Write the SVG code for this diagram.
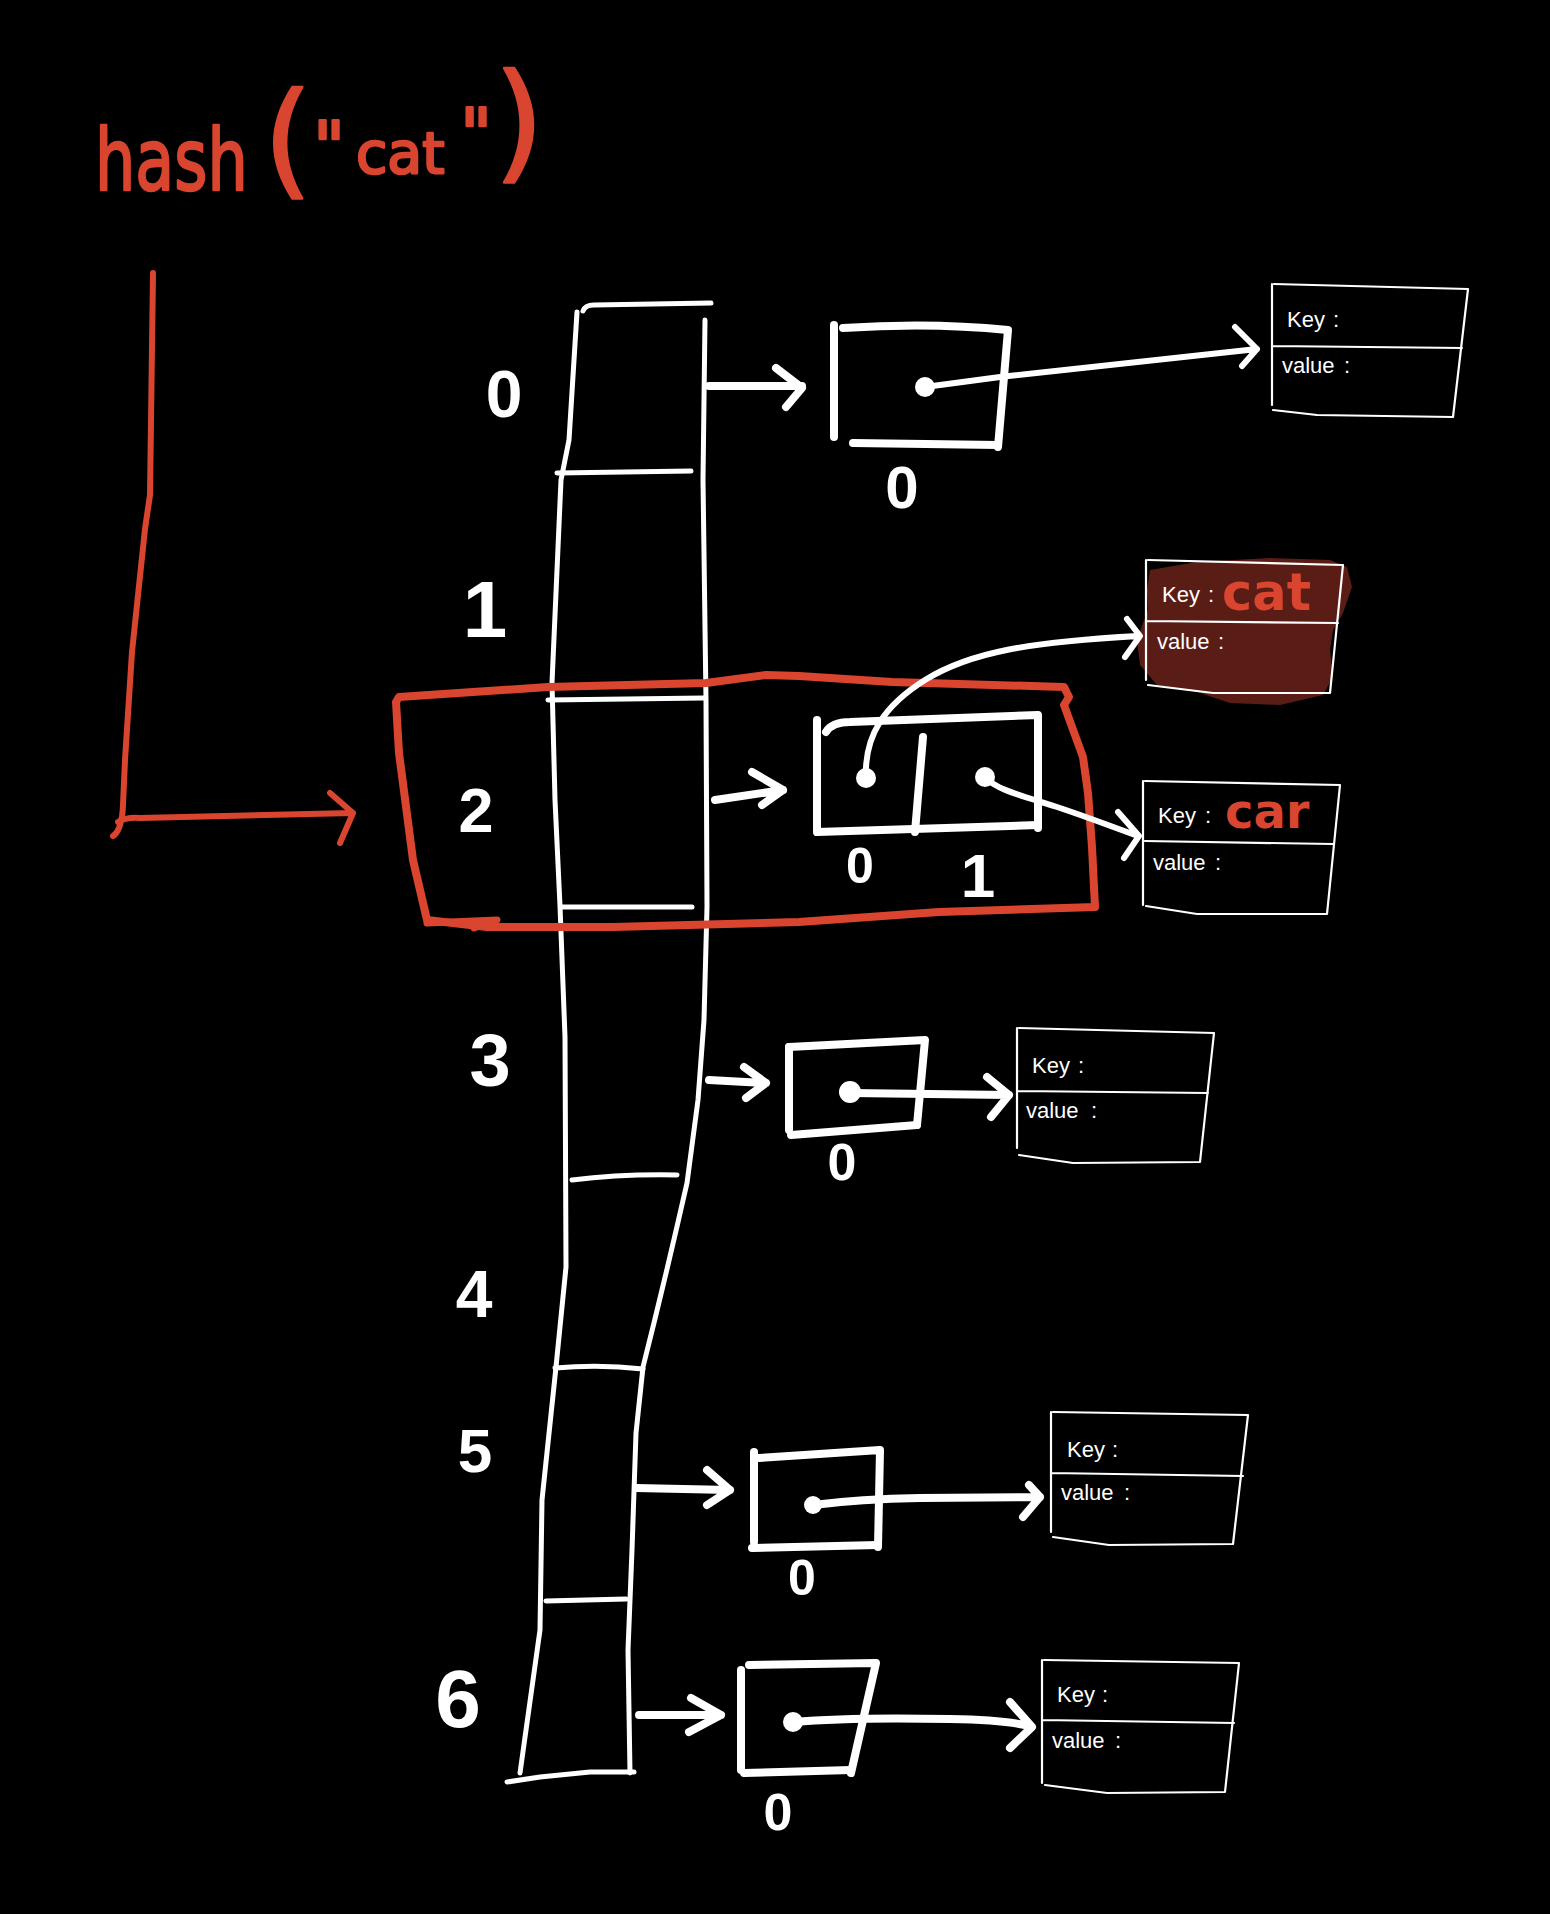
<svg xmlns="http://www.w3.org/2000/svg" width="1550" height="1914" viewBox="0 0 1550 1914">
<style>
.w{fill:none;stroke:#fff;stroke-linecap:round;stroke-linejoin:round}
.col{stroke-width:5}
.bk{stroke-width:8}
.kv{stroke-width:2.2}
.ar{stroke-width:8}
.red{fill:none;stroke:#d9452f;stroke-linecap:round;stroke-linejoin:round}
.dot{fill:#fff}
.dg{fill:#fff;font-family:"Liberation Sans",Arial,sans-serif;font-weight:bold;text-anchor:middle}
.kt{fill:#fff;font-family:"Liberation Sans",Arial,sans-serif;font-size:22px}
.rk{fill:#d9452f;font-family:"DejaVu Sans",sans-serif;font-weight:bold}
.tt{fill:#d9452f;stroke:#d9452f;stroke-width:2.5;stroke-linejoin:round;font-family:"DejaVu Sans",sans-serif}
</style>
<rect x="0" y="0" width="1550" height="1914" fill="#000"/>

<g id="title">
<text class="tt" transform="translate(95,190) scale(0.74,1)" x="0" y="0" font-size="86">hash</text>
<text class="tt" x="288" y="182" font-size="125" text-anchor="middle" stroke-width="3.5">(</text>
<text class="tt" x="329" y="171" font-size="70" text-anchor="middle">"</text>
<text class="tt" x="356" y="173" font-size="57">cat</text>
<text class="tt" x="476" y="158" font-size="70" text-anchor="middle">"</text>
<text class="tt" x="519" y="166" font-size="129" text-anchor="middle" stroke-width="3.5">)</text>
</g>

<g id="array">
<path class="w col" d="M577,312 L569,440 L561,480 L552,683 L555,800 L560,906 L565,1037 L566,1267 L556,1367 L542,1500 L540,1630 L520,1773"/>
<path class="w col" d="M705,320 L703,480 L706,700 L707,907 L704,1020 L698,1100 L687,1183 Q665,1280 643,1367 L636,1433 L632,1550 L628,1650 L630,1773"/>
<path class="w col" d="M583,311 Q585,305 594,305 L711,303"/>
<path class="w col" d="M557,473 L691,471"/>
<path class="w col" d="M548,700 L704,698"/>
<path class="w col" d="M562,907 L692,907"/>
<path class="w col" d="M572,1180 Q620,1174 677,1175"/>
<path class="w col" d="M555,1368 Q600,1364 643,1369"/>
<path class="w col" d="M546,1601 L626,1599"/>
<path class="w col" d="M507,1782 L540,1777 L590,1772 L634,1772"/>
<text class="dg" x="504" y="417" font-size="66">0</text>
<text class="dg" x="485" y="637" font-size="80">1</text>
<text class="dg" x="476" y="832" font-size="63">2</text>
<text class="dg" x="490" y="1086" font-size="74">3</text>
<text class="dg" x="474" y="1317" font-size="66">4</text>
<text class="dg" x="475" y="1472" font-size="62">5</text>
<text class="dg" x="458" y="1727" font-size="82">6</text>
</g>

<g id="highlight">
<path class="red" stroke-width="8" d="M399,697 L473,692 L548,687 L706,683 L766,675 L799,676 L892,682 L1064,687 L1069,697 L1064,705 L1083,757 L1088,793 L1092,847 L1095,907 L939,912 L799,922 L613,927 L487,927 L427,920 L413,860 L399,753 L396,702 Z"/>
<path class="red" stroke-width="7" d="M427,923 L497,920 L474,928"/>
</g>

<g id="bucket0">
<path class="w bk" d="M834,325 L834,437"/>
<path class="w bk" d="M843,328 Q930,322 1008,330 L998,447"/>
<path class="w bk" d="M853,443 L998,445"/>
<circle class="dot" cx="925" cy="387" r="10"/>
<text class="dg" x="902" y="508" font-size="60">0</text>
</g>

<g id="bucket2">
<path class="w bk" d="M817,720 L817,830"/>
<path class="w bk" d="M826,732 Q832,722 850,722 L1038,715 L1038,828"/>
<path class="w bk" d="M817,832 L1038,825"/>
<path class="w bk" d="M923,737 L915,832"/>
<circle class="dot" cx="866" cy="778" r="10"/>
<circle class="dot" cx="985" cy="777" r="10"/>
<text class="dg" x="860" y="883" font-size="50">0</text>
<text class="dg" x="978" y="897" font-size="62">1</text>
</g>

<g id="bucket3">
<path class="w bk" d="M789,1047 L789,1130"/>
<path class="w bk" d="M789,1047 L925,1040 L917,1125"/>
<path class="w bk" d="M791,1135 L917,1125"/>
<circle class="dot" cx="850" cy="1092" r="11"/>
<text class="dg" x="842" y="1180" font-size="52">0</text>
</g>

<g id="bucket5">
<path class="w bk" d="M754,1452 L754,1542"/>
<path class="w bk" d="M759,1458 L880,1450 L878,1547"/>
<path class="w bk" d="M752,1548 L878,1545"/>
<circle class="dot" cx="813" cy="1505" r="9"/>
<text class="dg" x="802" y="1595" font-size="50">0</text>
</g>

<g id="bucket6">
<path class="w bk" d="M741,1670 L741,1770"/>
<path class="w bk" d="M749,1665 L876,1663 L851,1773"/>
<path class="w bk" d="M744,1773 L851,1770"/>
<circle class="dot" cx="793" cy="1722" r="10"/>
<text class="dg" x="778" y="1830" font-size="52">0</text>
</g>

<g id="kv0">
<path class="w kv" d="M1272,284 L1272,405 M1274,284 L1468,289 L1453,417 L1317,415 L1273,410 M1272,346 L1462,348"/>
<text class="kt" x="1287" y="327">Key <tspan x="1333">:</tspan></text>
<text class="kt" x="1282" y="373">value <tspan x="1344">:</tspan></text>
</g>

<g id="kv1">
<path d="M1150,570 L1197,562 L1270,558 L1330,560 L1347,567 L1352,587 L1343,613 L1333,630 L1330,650 L1333,677 L1323,695 L1280,705 L1230,703 L1197,692 L1157,685 L1140,665 L1137,640 L1143,623 L1148,610 L1147,590 Z" fill="#5a1d16"/>
<path class="w kv" d="M1146,560 L1146,680 M1148,560 L1343,565 L1330,693 L1213,693 L1148,685 M1147,621 L1338,623"/>
<text class="kt" x="1162" y="602">Key <tspan x="1208">:</tspan></text>
<text class="rk" x="1222" y="610" font-size="51">cat</text>
<text class="kt" x="1157" y="649">value <tspan x="1218">:</tspan></text>
</g>

<g id="kv2">
<path class="w kv" d="M1143,781 L1143,905 M1145,781 L1340,785 L1327,914 L1197,914 L1146,906 M1145,841 L1333,844"/>
<text class="kt" x="1158" y="823">Key <tspan x="1205">:</tspan></text>
<text class="rk" x="1225" y="828" font-size="48">car</text>
<text class="kt" x="1153" y="870">value <tspan x="1215">:</tspan></text>
</g>

<g id="kv3">
<path class="w kv" d="M1017,1028 L1017,1148 M1019,1028 L1214,1033 L1200,1162 L1073,1163 L1019,1155 M1017,1091 L1208,1093"/>
<text class="kt" x="1032" y="1073">Key <tspan x="1078">:</tspan></text>
<text class="kt" x="1026" y="1118">value <tspan x="1091">:</tspan></text>
</g>

<g id="kv5">
<path class="w kv" d="M1051,1412 L1051,1532 M1053,1412 L1248,1415 L1233,1544 L1109,1545 L1053,1537 M1051,1473 L1243,1476"/>
<text class="kt" x="1067" y="1457">Key <tspan x="1112">:</tspan></text>
<text class="kt" x="1061" y="1500">value <tspan x="1124">:</tspan></text>
</g>

<g id="kv6">
<path class="w kv" d="M1042,1660 L1042,1783 M1044,1660 L1239,1663 L1225,1792 L1107,1793 L1045,1785 M1042,1720 L1234,1723"/>
<text class="kt" x="1057" y="1702">Key <tspan x="1102">:</tspan></text>
<text class="kt" x="1052" y="1748">value <tspan x="1115">:</tspan></text>
</g>

<g id="connectors">
<path class="red" stroke-width="6" d="M153,273 L150,495 L145,529 L132,652 L125,760 L123,805 Q122,830 113,836"/>
<path class="red" stroke-width="6" d="M118,822 Q126,817 140,818 L353,813 M330,793 L353,813 L340,843"/>

<path class="w ar" d="M709,386 L802,386 M776,368 L802,388 L786,407"/>
<path class="w" stroke-width="6" d="M925,387 L1000,377 L1257,349 M1235,327 L1257,349 L1242,366"/>

<path class="w ar" d="M715,800 L783,790 M752,772 L783,790 L762,805"/>
<path class="w" stroke-width="6" d="M866,778 C864,735 885,705 925,680 C970,652 1030,642 1138,636 M1127,619 L1140,636 L1125,657"/>
<path class="w" stroke-width="6" d="M985,777 C995,790 1030,798 1060,808 C1090,818 1110,826 1138,836 M1118,812 L1139,836 L1124,858"/>

<path class="w ar" d="M709,1080 L766,1083 M744,1067 L766,1083 L746,1098"/>
<path class="w ar" d="M850,1093 L1009,1095 M987,1077 L1009,1095 L991,1117"/>

<path class="w ar" d="M636,1488 L730,1490 M707,1470 L730,1490 L707,1505"/>
<path class="w ar" d="M813,1505 Q860,1499 920,1498 L1040,1497 M1029,1485 L1040,1497 L1023,1517"/>

<path class="w ar" d="M639,1715 L721,1715 M691,1698 L721,1715 L689,1732"/>
<path class="w ar" d="M793,1722 Q850,1717 950,1719 Q1010,1720 1032,1727 M1010,1702 L1032,1727 L1010,1748"/>
</g>
</svg>
